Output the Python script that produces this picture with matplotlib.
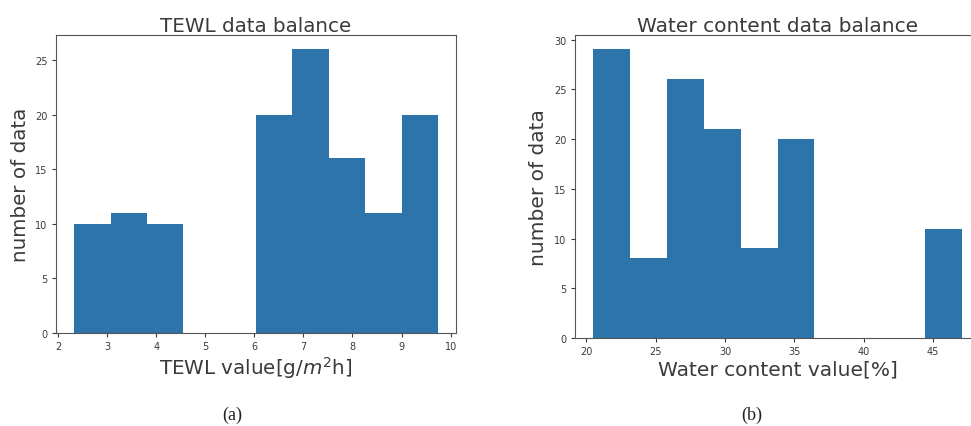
import numpy as np
import matplotlib
matplotlib.use("Agg")
import matplotlib.pyplot as plt

# histogram data (10 equal bins per panel)
tewl_range = (2.33, 9.74)
tewl_counts = [10, 11, 10, 0, 0, 20, 26, 16, 11, 20]

water_range = (20.5, 47.1)
water_counts = [29, 8, 26, 21, 9, 20, 0, 0, 0, 11]

bar_color = "#2c74a9"
text_color = "#3a3a3a"


def draw_hist(ax, rng, counts, title, xlabel, fs):
    edges = np.linspace(rng[0], rng[1], len(counts) + 1)
    ax.hist(edges[:-1], bins=edges, weights=counts, color=bar_color)
    ax.set_title(title, fontsize=fs, color=text_color, pad=3)
    ax.set_xlabel(xlabel, fontsize=fs, color=text_color, labelpad=2)
    ax.set_ylabel("number of data", fontsize=fs, color=text_color, labelpad=4)
    ax.tick_params(labelsize=7, colors=text_color, length=3, pad=3)
    for sp in ax.spines.values():
        sp.set_color("#555555")


fig = plt.figure(figsize=(9.71, 4.27), dpi=100)

ax1 = fig.add_axes([0.0577, 0.2178, 0.412, 0.698])
draw_hist(ax1, tewl_range, tewl_counts, "TEWL data balance",
          r"TEWL value[g/$m^2$h]", 14.3)

ax2 = fig.add_axes([0.592, 0.206, 0.4177, 0.7096])
draw_hist(ax2, water_range, water_counts, "Water content data balance",
          "Water content value[%]", 14.5)

fig.text(0.239, 0.028, "(a)", family="Liberation Serif", fontsize=13,
         ha="center", va="center", color="#222222")
fig.text(0.7745, 0.028, "(b)", family="Liberation Serif", fontsize=13,
         ha="center", va="center", color="#222222")

fig.savefig("out.png", dpi=100)
